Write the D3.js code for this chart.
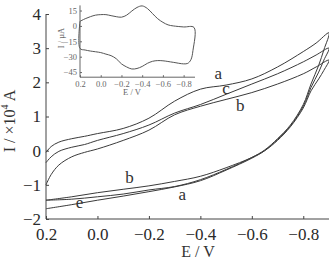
<!DOCTYPE html>
<html>
<head>
<meta charset="utf-8">
<script src="https://cdnjs.cloudflare.com/ajax/libs/d3/7.8.5/d3.min.js"></script>
<style>
  html, body { margin: 0; padding: 0; background: #fff; }
  svg { display: block; }
  text { font-family: "Liberation Serif", "Times New Roman", Times, serif; }
</style>
</head>
<body>
<div id="chart"></div>
<script>
// main CV curves: forward sweep (0.2 -> -0.9 V) and return sweep, I in 1e-4 A
const fwdE = [0.2, 0.18, 0.15, 0.1, 0.05, 0.0, -0.1, -0.2, -0.3, -0.4, -0.5, -0.6, -0.7, -0.8, -0.85, -0.9];
const aFwd = [-0.05, 0.12, 0.25, 0.35, 0.42, 0.5, 0.65, 0.95, 1.45, 1.8, 1.92, 2.1, 2.45, 2.9, 3.15, 3.45];
const cFwd = [-0.35, -0.18, -0.02, 0.1, 0.18, 0.3, 0.5, 0.75, 1.1, 1.35, 1.65, 1.95, 2.25, 2.6, 2.8, 3.0];
const bFwd = [-1.0, -0.7, -0.42, -0.18, -0.05, 0.05, 0.3, 0.6, 1.05, 1.3, 1.5, 1.7, 1.95, 2.25, 2.45, 2.65];

const revE = [-0.9, -0.88, -0.86, -0.83, -0.8, -0.75, -0.7, -0.65, -0.6, -0.5, -0.4, -0.3, -0.2, -0.1, 0.0, 0.1, 0.2];
const aRev = [3.45, 2.95, 2.5, 1.95, 1.35, 0.75, 0.35, 0.02, -0.2, -0.55, -0.85, -1.05, -1.15, -1.27, -1.35, -1.42, -1.45];
const cRev = [3.0, 2.65, 2.3, 1.85, 1.3, 0.72, 0.33, 0.0, -0.22, -0.57, -0.88, -1.06, -1.2, -1.33, -1.45, -1.58, -1.7];
const bRev = [2.65, 2.35, 2.1, 1.75, 1.25, 0.7, 0.3, 0.0, -0.2, -0.5, -0.75, -0.9, -1.03, -1.13, -1.23, -1.35, -1.45];

// inset CV, I in uA
const insetFwdE = [0.2, 0.15, 0.1, 0.05, 0.0, -0.05, -0.1, -0.15, -0.2, -0.25, -0.3, -0.35, -0.4, -0.45, -0.5, -0.55, -0.6, -0.65, -0.7, -0.8, -0.9];
const insetFwdI = [4.5, 7, 9, 10.5, 11, 11, 10, 9, 8.5, 10.5, 14.5, 18, 19.5, 17, 12, 7, 3.5, 1, 0, -1, -1.5];
const insetRevE = [-0.9, -0.89, -0.87, -0.84, -0.8, -0.7, -0.6, -0.55, -0.5, -0.45, -0.4, -0.35, -0.3, -0.25, -0.2, -0.15, -0.1, -0.05, 0.0, 0.1, 0.15, 0.2];
const insetRevI = [-1.5, -24, -33, -36.5, -37, -35.5, -34, -33.8, -34.5, -36.5, -39.5, -41.5, -42, -40, -37, -32, -29, -27.5, -26, -24.5, -23.5, -22];

const xTicks = [0.2, 0.0, -0.2, -0.4, -0.6, -0.8];
const yTicks = [-2, -1, 0, 1, 2, 3, 4];
const insetYTicks = [-45, -30, -15, 0, 15];

const labelsTop = [{t: "a", E: -0.47, I: 2.1}, {t: "c", E: -0.5, I: 1.65}, {t: "b", E: -0.555, I: 1.15}];
const labelsBottom = [{t: "b", E: -0.125, I: -0.95}, {t: "a", E: -0.33, I: -1.45}, {t: "e", E: 0.07, I: -1.67}];

const W = 329, H = 260;
const svg = d3.select("#chart").append("svg").attr("width", W).attr("height", H);

const x = d3.scaleLinear().domain([0.2, -0.9]).range([46, 329]);
const y = d3.scaleLinear().domain([-2, 4]).range([219, 14]);

const fmt = d => d === 0 ? "0.0" : d3.format(".1f")(d);

// axes
const gx = svg.append("g").attr("transform", "translate(0,219)")
  .call(d3.axisBottom(x).tickValues(xTicks).tickSize(-3).tickPadding(6).tickFormat(fmt));
gx.select(".domain").attr("d", "M46,0H329");
const gy = svg.append("g").attr("transform", "translate(46,0)")
  .call(d3.axisLeft(y).tickValues(yTicks).tickSize(-3).tickPadding(5).tickFormat(d3.format("d")));
gy.select(".domain").attr("d", "M0,14V219");
[gx, gy].forEach(g => {
  g.attr("font-family", null);
  g.selectAll(".domain, line").attr("stroke", "#444").attr("stroke-width", 1);
  g.selectAll("text").attr("font-size", 17).attr("fill", "#2a2a2a");
});
gx.selectAll("text").attr("dy", "0.9em");

svg.append("text").attr("x", 198).attr("y", 257).attr("text-anchor", "middle")
  .attr("font-size", 16).attr("fill", "#333").text("E / V");
const yl = svg.append("text").attr("transform", "translate(15,121) rotate(-90)")
  .attr("text-anchor", "middle").attr("font-size", 16).attr("fill", "#333");
yl.append("tspan").text("I / ×10");
yl.append("tspan").attr("font-size", 10).attr("dy", -7).text("4");
yl.append("tspan").attr("dy", 7).text(" A");

// CV loops
const line = d3.line().x(d => x(d[0])).y(d => y(d[1])).curve(d3.curveCatmullRom.alpha(0.5));
function loop(fE, fI, rE, rI) {
  return fE.map((e, i) => [e, fI[i]]).concat(rE.map((e, i) => [e, rI[i]]).slice(1));
}
[[aFwd, aRev], [cFwd, cRev], [bFwd, bRev]].forEach(([f, r]) => {
  svg.append("path").datum(loop(fwdE, f, revE, r))
    .attr("d", line).attr("fill", "none").attr("stroke", "#3a3a3a").attr("stroke-width", 1);
});

labelsTop.concat(labelsBottom).forEach(l => {
  svg.append("text").attr("x", x(l.E)).attr("y", y(l.I)).attr("text-anchor", "middle")
    .attr("font-size", 17).attr("fill", "#333").text(l.t);
});

// inset
const ix = d3.scaleLinear().domain([0.2, -0.9]).range([80, 194]);
const iy = d3.scaleLinear().domain([-50, 20]).range([77.2, 5.4]);
const inset = svg.append("g");
const igx = inset.append("g").attr("transform", "translate(0,77.2)")
  .call(d3.axisBottom(ix).tickValues(xTicks).tickSize(-2).tickPadding(3).tickFormat(fmt));
igx.select(".domain").attr("d", "M80,0H195");
const igy = inset.append("g").attr("transform", "translate(80,0)")
  .call(d3.axisLeft(iy).tickValues(insetYTicks).tickSize(-2).tickPadding(3).tickFormat(d3.format("d")));
igy.select(".domain").attr("d", "M0,5.4V77.2");
[igx, igy].forEach(g => {
  g.attr("font-family", null);
  g.selectAll(".domain, line").attr("stroke", "#666").attr("stroke-width", 1);
  g.selectAll("text").attr("font-size", 8.5).attr("fill", "#666");
});
igx.selectAll("text").attr("dy", "0.8em");

inset.append("text").attr("x", 132).attr("y", 95).attr("text-anchor", "middle")
  .attr("font-size", 8.5).attr("fill", "#666").text("E / V");
inset.append("text").attr("transform", "translate(64,38) rotate(-90)")
  .attr("text-anchor", "middle").attr("font-size", 8.5).attr("fill", "#666").text("I / µA");

const iline = d3.line().x(d => ix(d[0])).y(d => iy(d[1])).curve(d3.curveCatmullRom.alpha(0.5));
inset.append("path").datum(loop(insetFwdE, insetFwdI, insetRevE, insetRevI).concat([[insetFwdE[0], insetFwdI[0]]]))
  .attr("d", iline).attr("fill", "none").attr("stroke", "#555").attr("stroke-width", 1);
</script>
</body>
</html>
